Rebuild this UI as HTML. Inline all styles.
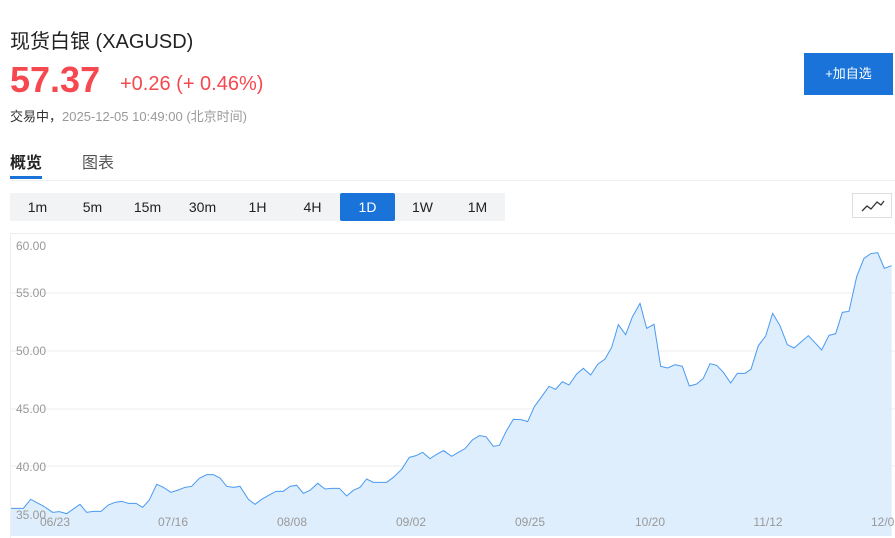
<!DOCTYPE html>
<html><head><meta charset="utf-8"><style>
body{margin:0;width:895px;height:538px;background:#fff;font-family:"Liberation Sans","Noto Sans CJK SC",sans-serif;position:relative;overflow:hidden;color:#222}
.a{position:absolute;white-space:nowrap}
.tf{position:absolute;left:10px;top:193px;width:495px;height:28px;background:#f2f3f5;display:flex}
.tf div{width:55px;text-align:center;line-height:28px;font-size:14px;color:#222}
.tf .on{background:#1a73d9;color:#fff;border-radius:2px}
</style></head><body>
<div class="a" style="left:10px;top:25px;font-size:20px;color:#222">现货白银 (XAGUSD)</div>
<div class="a" style="left:10px;top:59px;font-size:36px;font-weight:bold;color:#f5484f">57.37</div>
<div class="a" style="left:120px;top:73px;font-size:20px;color:#f5484f">+0.26 (+ 0.46%)</div>
<div class="a" style="left:10px;top:106px;font-size:13px;color:#333">交易中，<span style="color:#999">2025-12-05 10:49:00 (北京时间)</span></div>
<div class="a" style="left:804px;top:53px;width:89px;height:42px;background:#1a73d9;color:#fff;font-size:13px;line-height:42px;text-align:center">+加自选</div>
<div class="a" style="left:10px;top:149px;font-size:16px;font-weight:bold;color:#222">概览</div>
<div class="a" style="left:82px;top:149px;font-size:16px;color:#555">图表</div>
<div class="a" style="left:10px;top:176px;width:32px;height:3px;background:#1a73d9"></div>
<div class="a" style="left:10px;top:180px;width:885px;height:1px;background:#eee"></div>
<div class="tf"><div>1m</div><div>5m</div><div>15m</div><div>30m</div><div>1H</div><div>4H</div><div class="on">1D</div><div>1W</div><div>1M</div></div>
<div class="a" style="left:852px;top:193px;width:40px;height:25px;border:1px solid #ddd;box-sizing:border-box"><svg width="40" height="25"><polyline points="9,17 14,12 18,15 24,8 28,11 31,7" fill="none" stroke="#333" stroke-width="1.3"/></svg></div>
<svg class="a" style="left:0;top:0" width="895" height="538">
<rect x="10.5" y="233.5" width="890" height="310" fill="none" stroke="#eee"/>
<g stroke="#eee" stroke-width="1">
<line x1="11" x2="895" y1="293" y2="293"/><line x1="11" x2="895" y1="351" y2="351"/><line x1="11" x2="895" y1="409" y2="409"/><line x1="11" x2="895" y1="466" y2="466"/>
</g>
<g transform="translate(0,230) scale(0.33333)">
<polygon fill="#dfeefd" points="33,918 33,835 70,835 92,808 130,828 158,847 178,845 200,851 240,823 260,847 280,844 303,844 325,825 345,817 365,814 385,820 408,820 428,832 448,810 470,763 490,772 513,787 535,780 555,772 575,769 598,745 620,734 640,734 660,744 680,769 700,772 720,769 745,808 765,823 785,808 808,795 828,784 850,784 870,769 890,766 910,790 930,781 953,760 975,777 995,775 1018,775 1040,798 1060,781 1080,772 1100,747 1120,757 1160,757 1180,742 1205,718 1228,682 1248,677 1268,667 1290,686 1310,673 1330,662 1338,665 1338,918"/>
<polyline fill="none" stroke="#4a9af0" stroke-width="1" vector-effect="non-scaling-stroke" points="33,835 70,835 92,808 130,828 158,847 178,845 200,851 240,823 260,847 280,844 303,844 325,825 345,817 365,814 385,820 408,820 428,832 448,810 470,763 490,772 513,787 535,780 555,772 575,769 598,745 620,734 640,734 660,744 680,769 700,772 720,769 745,808 765,823 785,808 808,795 828,784 850,784 870,769 890,766 910,790 930,781 953,760 975,777 995,775 1018,775 1040,798 1060,781 1080,772 1100,747 1120,757 1160,757 1180,742 1205,718 1228,682 1248,677 1268,667 1290,686 1310,673 1330,662 1338,665"/>
</g>
<g transform="translate(445,230) scale(0.33333)">
<polygon fill="#dfeefd" points="-5,918 -5,662 0,665 20,679 40,667 60,656 82,630 103,617 123,620 145,649 163,646 185,601 205,568 228,569 248,575 268,530 290,500 312,469 332,478 352,455 372,465 395,432 415,415 437,435 458,403 480,387 500,352 520,284 542,314 562,261 585,220 605,295 627,283 647,409 668,414 690,404 712,409 733,468 755,462 775,445 795,401 815,406 835,427 857,459 877,430 900,430 918,418 940,347 962,318 983,250 1005,287 1027,344 1047,354 1068,336 1090,317 1110,338 1130,360 1152,316 1172,311 1192,247 1212,244 1235,140 1257,85 1277,71 1298,68 1318,115 1340,107 1340,918"/>
<polyline fill="none" stroke="#4a9af0" stroke-width="1" vector-effect="non-scaling-stroke" points="-5,662 0,665 20,679 40,667 60,656 82,630 103,617 123,620 145,649 163,646 185,601 205,568 228,569 248,575 268,530 290,500 312,469 332,478 352,455 372,465 395,432 415,415 437,435 458,403 480,387 500,352 520,284 542,314 562,261 585,220 605,295 627,283 647,409 668,414 690,404 712,409 733,468 755,462 775,445 795,401 815,406 835,427 857,459 877,430 900,430 918,418 940,347 962,318 983,250 1005,287 1027,344 1047,354 1068,336 1090,317 1110,338 1130,360 1152,316 1172,311 1192,247 1212,244 1235,140 1257,85 1277,71 1298,68 1318,115 1340,107"/>
</g>
<g font-family="Liberation Sans" font-size="12" fill="#999">
<text x="16" y="250">60.00</text><text x="16" y="297">55.00</text><text x="16" y="355">50.00</text><text x="16" y="413">45.00</text><text x="16" y="471">40.00</text><text x="16" y="519">35.00</text>
</g>
<g font-family="Liberation Sans" font-size="12" fill="#999" text-anchor="middle">
<text x="55" y="526">06/23</text><text x="173" y="526">07/16</text><text x="292" y="526">08/08</text><text x="411" y="526">09/02</text><text x="530" y="526">09/25</text><text x="650" y="526">10/20</text><text x="768" y="526">11/12</text><text x="886" y="526">12/05</text>
</g>
</svg>
</body></html>
